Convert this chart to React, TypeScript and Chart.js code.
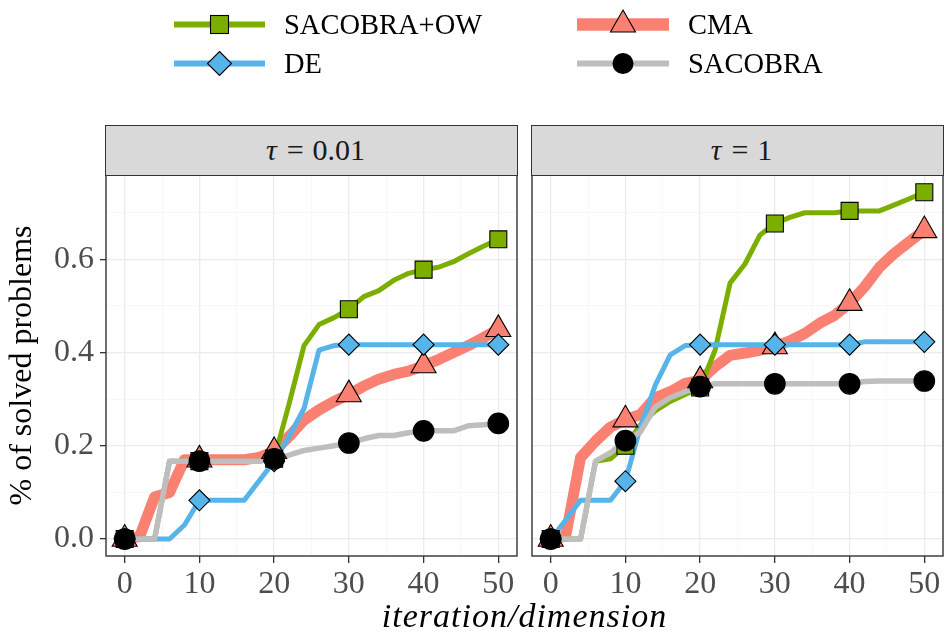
import React, { useEffect, useRef } from 'react';
import { Chart, registerables } from 'chart.js';

Chart.register(...registerables);

// ---------------- data ----------------
const iterations = [0, 2, 4, 6, 8, 10, 12, 14, 16, 18, 20, 22, 24, 26, 28, 30, 32, 34, 36, 38, 40, 42, 44, 46, 48, 50];
const markerIterations = [0, 10, 20, 30, 40, 50];
const xTickValues = [0, 5, 10, 15, 20, 25, 30, 35, 40, 45, 50];
const xTickLabels = ['0', '10', '20', '30', '40', '50'];
const yTickValues = [0, 0.1, 0.2, 0.3, 0.4, 0.5, 0.6, 0.7];
const yTickLabels = ['0.0', '0.2', '0.4', '0.6'];
const seriesNames = ['SACOBRA+OW', 'DE', 'CMA', 'SACOBRA'];
const panelTaus = ['0.01', '1'];
const xTitle = 'iteration/dimension';
const yTitle = '% of solved problems';

// panel tau = 0.01
const sacobraOwTau001 = [0, 0, 0, 0.167, 0.167, 0.167, 0.167, 0.167, 0.167, 0.167, 0.172, 0.29, 0.415, 0.46, 0.475, 0.493, 0.52, 0.533, 0.555, 0.57, 0.578, 0.583, 0.595, 0.612, 0.628, 0.643];
const deTau001 = [0, 0, 0, 0, 0.03, 0.083, 0.083, 0.083, 0.083, 0.125, 0.167, 0.22, 0.28, 0.405, 0.415, 0.417, 0.417, 0.417, 0.417, 0.417, 0.417, 0.417, 0.417, 0.417, 0.417, 0.417];
const cmaTau001 = [0, 0.005, 0.09, 0.1, 0.17, 0.17, 0.17, 0.17, 0.17, 0.175, 0.188, 0.22, 0.255, 0.277, 0.295, 0.31, 0.328, 0.343, 0.353, 0.36, 0.372, 0.385, 0.4, 0.415, 0.432, 0.45];
const sacobraTau001 = [0, 0, 0, 0.167, 0.167, 0.167, 0.167, 0.167, 0.167, 0.167, 0.172, 0.18, 0.19, 0.195, 0.2, 0.206, 0.215, 0.222, 0.222, 0.228, 0.232, 0.232, 0.232, 0.243, 0.245, 0.248];

// panel tau = 1
const sacobraOwTau1 = [0, 0, 0, 0.167, 0.172, 0.2, 0.245, 0.275, 0.295, 0.31, 0.325, 0.405, 0.549, 0.59, 0.652, 0.677, 0.69, 0.7, 0.7, 0.7, 0.704, 0.704, 0.704, 0.717, 0.73, 0.744];
const deTau1 = [0, 0.04, 0.083, 0.083, 0.083, 0.124, 0.24, 0.33, 0.395, 0.415, 0.417, 0.417, 0.417, 0.417, 0.417, 0.417, 0.417, 0.417, 0.417, 0.417, 0.417, 0.423, 0.423, 0.423, 0.423, 0.423];
const cmaTau1 = [0, 0.006, 0.175, 0.21, 0.24, 0.256, 0.267, 0.303, 0.316, 0.334, 0.34, 0.37, 0.394, 0.399, 0.405, 0.413, 0.425, 0.441, 0.463, 0.48, 0.506, 0.541, 0.583, 0.613, 0.638, 0.662];
const sacobraTau1 = [0, 0, 0, 0.167, 0.185, 0.211, 0.23, 0.283, 0.303, 0.316, 0.327, 0.333, 0.333, 0.333, 0.333, 0.333, 0.333, 0.333, 0.333, 0.333, 0.333, 0.338, 0.339, 0.339, 0.339, 0.339];

// ---------------- styles ----------------
const FONT = "'Liberation Serif', 'Times New Roman', serif";
const TICK_COLOR = '#4D4D4D';
const BORDER = '#333333';
const styles = [
  { color: '#7CAE00', width: 5, pointStyle: 'rect', radius: 12, fill: '#7CAE00', lineOrder: 7, pointOrder: 3 },
  { color: '#56B4E9', width: 5, pointStyle: 'rectRot', radius: 10.5, fill: '#56B4E9', lineOrder: 6, pointOrder: 2 },
  { color: '#FA8072', width: 11, pointStyle: 'triangle', radius: 14.4, fill: '#FA8072', lineOrder: 8, pointOrder: 4 },
  { color: '#BEBEBE', width: 5.5, pointStyle: 'circle', radius: 10.3, fill: '#000000', lineOrder: 5, pointOrder: 1 },
];

const Y_MIN = -0.0365;
const Y_MAX = 0.781;
const X_MIN = -2.5;
const X_MAX = 52.5;

function buildDatasets(series: number[][]) {
  const lines = series.map((vals, i) => ({
    label: seriesNames[i],
    data: iterations.map((x, j) => ({ x, y: vals[j] })),
    borderColor: styles[i].color,
    backgroundColor: styles[i].color,
    borderWidth: styles[i].width,
    pointRadius: 0,
    pointHoverRadius: 0,
    tension: 0,
    fill: false,
    borderJoinStyle: 'round',
    borderCapStyle: 'butt',
    order: styles[i].lineOrder,
  }));
  const points = series.map((vals, i) => ({
    label: seriesNames[i] + ' markers',
    data: iterations
      .map((x, j) => ({ x, y: vals[j] }))
      .filter((p) => markerIterations.includes(p.x)),
    showLine: false,
    pointStyle: styles[i].pointStyle,
    pointRadius: styles[i].radius,
    pointHoverRadius: styles[i].radius,
    pointBackgroundColor: styles[i].fill,
    pointBorderColor: '#000000',
    pointBorderWidth: 1.1,
    order: styles[i].pointOrder,
  }));
  return [...lines, ...points];
}

const panelBorder = {
  id: 'panelBorder',
  afterDraw(chart: any) {
    const { ctx, chartArea: a } = chart;
    ctx.save();
    ctx.strokeStyle = BORDER;
    ctx.lineWidth = 1.4;
    ctx.strokeRect(a.left, a.top, a.right - a.left, a.bottom - a.top);
    ctx.restore();
  },
};

function makeConfig(series: number[][], isLeft: boolean): any {
  return {
    type: 'line',
    data: { datasets: buildDatasets(series) },
    options: {
      animation: false,
      responsive: false,
      maintainAspectRatio: false,
      events: [],
      layout: { autoPadding: false, padding: { left: 0, right: 3, top: 175, bottom: 0 } },
      plugins: { legend: { display: false }, tooltip: { enabled: false }, title: { display: false } },
      scales: {
        x: {
          type: 'linear',
          min: X_MIN,
          max: X_MAX,
          afterBuildTicks: (scale: any) => {
            scale.ticks = xTickValues.map((v) => ({ value: v }));
          },
          afterFit: (scale: any) => {
            scale.height = 78;
            scale.paddingLeft = 0;
            scale.paddingRight = 0;
            scale.paddingTop = 0;
            scale.paddingBottom = 0;
          },
          ticks: {
            autoSkip: false,
            maxRotation: 0,
            minRotation: 0,
            padding: 2,
            color: TICK_COLOR,
            font: { family: FONT, size: 32 },
            callback: (_v: any, index: number) => (index % 2 === 0 ? xTickLabels[index / 2] : ''),
          },
          grid: {
            color: (ctx: any) => (ctx.index % 2 === 0 ? '#EBEBEB' : '#F3F3F3'),
            lineWidth: (ctx: any) => (ctx.index % 2 === 0 ? 1.3 : 0.7),
            drawTicks: true,
            tickLength: 7,
            tickWidth: 1.3,
            tickColor: (ctx: any) => (ctx.index % 2 === 0 ? BORDER : 'rgba(0,0,0,0)'),
          },
          border: { display: false },
        },
        y: {
          type: 'linear',
          min: Y_MIN,
          max: Y_MAX,
          afterBuildTicks: (scale: any) => {
            scale.ticks = yTickValues.map((v) => ({ value: v }));
          },
          afterFit: (scale: any) => {
            scale.width = isLeft ? 106 : 10;
            scale.paddingLeft = 0;
            scale.paddingRight = 0;
            scale.paddingTop = 0;
            scale.paddingBottom = 0;
          },
          ticks: {
            display: isLeft,
            autoSkip: false,
            padding: 6,
            color: TICK_COLOR,
            font: { family: FONT, size: 32 },
            callback: (_v: any, index: number) => (index % 2 === 0 ? yTickLabels[index / 2] : ''),
          },
          grid: {
            color: (ctx: any) => (ctx.index % 2 === 0 ? '#EBEBEB' : '#F3F3F3'),
            lineWidth: (ctx: any) => (ctx.index % 2 === 0 ? 1.3 : 0.7),
            drawTicks: isLeft,
            tickLength: 6,
            tickWidth: 1.3,
            tickColor: (ctx: any) => (ctx.index % 2 === 0 ? BORDER : 'rgba(0,0,0,0)'),
          },
          border: { display: false },
          title: {
            display: isLeft,
            text: yTitle,
            color: '#000000',
            font: { family: FONT, size: 32, lineHeight: 1.2 },
            padding: { top: 3, bottom: 0 },
          },
        },
      },
    },
    plugins: [panelBorder],
  };
}

function Legend() {
  const keyLine = (x1: number, x2: number, y: number, color: string, w: number) => (
    <line x1={x1} x2={x2} y1={y} y2={y} stroke={color} strokeWidth={w} />
  );
  const textProps = {
    fontFamily: FONT,
    fontSize: 28.5,
    fill: '#000000',
    dominantBaseline: 'central' as const,
  };
  return (
    <g>
      {keyLine(174, 265, 24.5, styles[0].color, 6)}
      <rect x={210.5} y={15.5} width={18} height={18} fill={styles[0].fill} stroke="#000" strokeWidth={1.1} />
      <text x={284} y={24.5} {...textProps}>{seriesNames[0]}</text>
      {keyLine(174, 265, 63.5, styles[1].color, 6)}
      <polygon points="219.5,51.5 231.5,63.5 219.5,75.5 207.5,63.5" fill={styles[1].fill} stroke="#000" strokeWidth={1.1} />
      <text x={284} y={63.5} {...textProps}>{seriesNames[1]}</text>
      {keyLine(577, 669, 24.5, styles[2].color, 12.5)}
      <polygon points="623,10 635.5,32 610.5,32" fill={styles[2].fill} stroke="#000" strokeWidth={1.1} />
      <text x={688} y={24.5} {...textProps}>{seriesNames[2]}</text>
      {keyLine(577, 669, 63.5, styles[3].color, 6)}
      <circle cx={623} cy={63.5} r={10.5} fill="#000" />
      <text x={688} y={63.5} {...textProps}>{seriesNames[3]}</text>
    </g>
  );
}

function Strip({ left, width, tau }: { left: number; width: number; tau: string }) {
  return (
    <div
      style={{
        position: 'absolute',
        left: left - 0.7,
        top: 125.3,
        width: width + 1.4,
        height: 50.4,
        boxSizing: 'border-box',
        background: '#D9D9D9',
        border: `1.4px solid ${BORDER}`,
        display: 'flex',
        alignItems: 'center',
        justifyContent: 'center',
        paddingLeft: 8,
        fontFamily: FONT,
        fontSize: 30,
        color: '#1A1A1A',
        lineHeight: 1,
        whiteSpace: 'nowrap',
      }}
    >
      <span style={{ fontStyle: 'italic' }}>τ</span>
      <span style={{ margin: '0 9px 0 10px' }}>=</span>
      <span>{tau}</span>
    </div>
  );
}

export default function App() {
  const leftRef = useRef<HTMLCanvasElement | null>(null);
  const rightRef = useRef<HTMLCanvasElement | null>(null);

  useEffect(() => {
    const charts: Chart[] = [];
    if (leftRef.current) {
      charts.push(
        new Chart(leftRef.current, makeConfig([sacobraOwTau001, deTau001, cmaTau001, sacobraTau001], true))
      );
    }
    if (rightRef.current) {
      charts.push(
        new Chart(rightRef.current, makeConfig([sacobraOwTau1, deTau1, cmaTau1, sacobraTau1], false))
      );
    }
    return () => {
      charts.forEach((c) => c.destroy());
    };
  }, []);

  return (
    <div
      style={{
        position: 'fixed',
        left: 0,
        top: 0,
        width: 946,
        height: 634,
        background: '#FFFFFF',
        overflow: 'hidden',
      }}
    >
      <canvas
        ref={leftRef}
        width={520}
        height={634}
        style={{ position: 'absolute', left: 0, top: 0, width: 520, height: 634 }}
      />
      <canvas
        ref={rightRef}
        width={424}
        height={634}
        style={{ position: 'absolute', left: 522, top: 0, width: 424, height: 634 }}
      />
      <Strip left={106} width={411} tau={panelTaus[0]} />
      <Strip left={532} width={411} tau={panelTaus[1]} />
      <svg
        width={946}
        height={634}
        style={{ position: 'absolute', left: 0, top: 0, pointerEvents: 'none' }}
      >
        <Legend />
        <text
          x={524.5}
          y={627}
          textAnchor="middle"
          fontFamily={FONT}
          fontStyle="italic"
          fontSize={34}
          letterSpacing={1}
          fill="#000000"
        >
          {xTitle}
        </text>
      </svg>
    </div>
  );
}
